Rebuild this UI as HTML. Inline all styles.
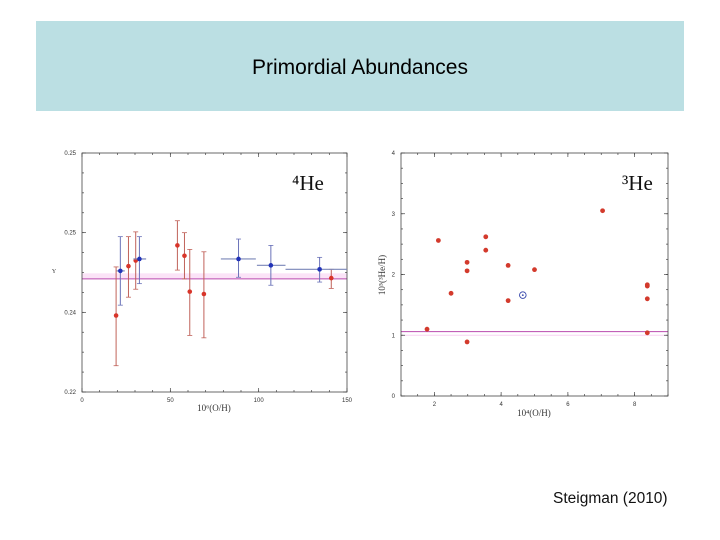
<!DOCTYPE html>
<html><head><meta charset="utf-8">
<style>
body{margin:0;width:720px;height:540px;background:#fff;overflow:hidden;position:relative;font-family:"Liberation Sans",sans-serif}
#band{position:absolute;left:36px;top:21px;width:648px;height:90px;background:#bbdfe3}
#title{position:absolute;left:0;width:720px;top:56px;text-align:center;font-size:21px;color:#000}
#cite{position:absolute;left:553px;top:490px;font-size:15.5px;color:#111}
svg{position:absolute;left:0;top:0}
</style></head><body>
<div id="band"></div>
<div id="title">Primordial Abundances</div>
<div id="cite">Steigman (2010)</div>
<svg id="svg" width="720" height="540"></svg>
<script>
// Left chart (4He) data
const heX = [19.3, 26.3, 30.4, 54.0, 58.0, 61.0, 69.0, 141.1];
const heY = [0.2296, 0.2358, 0.2365, 0.2384, 0.2371, 0.2326, 0.2323, 0.2343];
const heLo = [0.2233, 0.2319, 0.2329, 0.2353, 0.2342, 0.2271, 0.2268, 0.2330];
const heHi = [0.2357, 0.2395, 0.2401, 0.2415, 0.2400, 0.2379, 0.2376, 0.2354];
const hbX = [21.7, 32.5, 88.6, 106.9, 134.5];
const hbXlo = [19.6, 29.1, 78.6, 99.0, 115.2];
const hbXhi = [24.2, 36.3, 98.4, 115.2, 150];
const hbY = [0.2352, 0.2367, 0.2367, 0.2359, 0.2354];
const hbLo = [0.2309, 0.2336, 0.2344, 0.2334, 0.2338];
const hbHi = [0.2395, 0.2395, 0.2392, 0.2384, 0.2369];
const heLine = 0.2342, heBand = 0.2349;
const lxTicks = [0, 50, 100, 150];
const lyTicks = [0.22, 0.23, 0.24, 0.25];
const lyLabels = ["0.22", "0.24", "0.25", "0.25"];
// Right chart (3He) data
const h3X = [1.78, 2.12, 2.50, 2.98, 2.98, 2.98, 3.54, 3.54, 4.21, 4.21, 5.00, 7.04, 8.38, 8.38, 8.38, 8.38];
const h3Y = [1.10, 2.56, 1.69, 2.20, 2.06, 0.89, 2.62, 2.40, 2.15, 1.57, 2.08, 3.05, 1.83, 1.81, 1.60, 1.04];
const sunX = 4.65, sunY = 1.66;
const h3Line = 1.06, h3Band = 1.00;
const rxTicks = [2, 4, 6, 8];
const ryTicks = [0, 1, 2, 3, 4];

const NS = "http://www.w3.org/2000/svg";
const svg = document.getElementById('svg');
function mk(tag, at, parent){const e=document.createElementNS(NS,tag);for(const k in at)e.setAttribute(k,at[k]);(parent||svg).appendChild(e);return e;}

const L = {x0:82,x1:347,y0:392,y1:153,xmin:0,xmax:150,ymin:0.22,ymax:0.25};
const lx = v => L.x0 + (v-L.xmin)/(L.xmax-L.xmin)*(L.x1-L.x0);
const ly = v => L.y0 - (v-L.ymin)/(L.ymax-L.ymin)*(L.y0-L.y1);
const R = {x0:401,x1:668,y0:396,y1:153,xmin:1,xmax:9,ymin:0,ymax:4};
const rx = v => R.x0 + (v-R.xmin)/(R.xmax-R.xmin)*(R.x1-R.x0);
const ry = v => R.y0 - (v-R.ymin)/(R.ymax-R.ymin)*(R.y0-R.y1);

function frame(A, name){
  const r = mk('rect',{x:A.x0,y:A.y1,width:A.x1-A.x0,height:A.y0-A.y1,fill:'none',stroke:'#444','stroke-width':0.8});
  
  
}

let e = mk('rect',{x:L.x0,y:ly(heBand),width:L.x1-L.x0,height:ly(heLine)-ly(heBand),fill:'#fbe3f7'});
 
e = mk('line',{x1:L.x0,x2:L.x1,y1:ly(heLine),y2:ly(heLine),stroke:'#b94aae','stroke-width':1});
 
e = mk('line',{x1:R.x0,x2:R.x1,y1:ry(h3Band),y2:ry(h3Band),stroke:'#f8d4f2','stroke-width':1});
 
e = mk('line',{x1:R.x0,x2:R.x1,y1:ry(h3Line),y2:ry(h3Line),stroke:'#b94aae','stroke-width':1});
 
frame(L,'left-plot-frame'); frame(R,'right-plot-frame');

const tk = (x1,y1,x2,y2)=>mk('line',{x1,y1,x2,y2,stroke:'#444','stroke-width':0.7});
function ticksX(A, f, ticks, minorStep, lab){
  for(let v=A.xmin; v<=A.xmax+1e-9; v+=minorStep){const x=f(v);tk(x,A.y0,x,A.y0-2);tk(x,A.y1,x,A.y1+2);}
  ticks.forEach(v=>{const x=f(v);tk(x,A.y0,x,A.y0-4);tk(x,A.y1,x,A.y1+4);
    const t=mk('text',{x:x,y:A.y0+10,'font-size':6,'text-anchor':'middle',fill:'#333','font-family':'Liberation Sans, sans-serif'});t.textContent=v;
    });
}
function ticksY(A, f, ticks, labels, minorStep, lab){
  for(let v=A.ymin; v<=A.ymax+1e-9; v+=minorStep){const y=f(v);tk(A.x0,y,A.x0+2,y);tk(A.x1,y,A.x1-2,y);}
  ticks.forEach((v,i)=>{const y=f(v);tk(A.x0,y,A.x0+4,y);tk(A.x1,y,A.x1-4,y);
    const t=mk('text',{x:A.x0-6,y:y+2,'font-size':6,'text-anchor':'end',fill:'#333','font-family':'Liberation Sans, sans-serif'});t.textContent=labels[i];
    });
}
ticksX(L,lx,lxTicks,10,'left-x'); ticksY(L,ly,lyTicks,lyLabels,0.0025,'left-y');
ticksX(R,rx,rxTicks,0.5,'right-x'); ticksY(R,ry,ryTicks,ryTicks.map(String),0.25,'right-y');

function txt(x,y,s,size,name,extra){const t=mk('text',Object.assign({x,y,'font-size':size,fill:'#333','font-family':'Liberation Serif, serif'},extra||{}));t.textContent=s;return t;}
txt(214,411,'10⁶(O/H)',9,'left-x-axis-title',{'text-anchor':'middle'});
txt(54,273,'Y',6,'left-y-axis-title',{'text-anchor':'middle'});
txt(534,416,'10⁴(O/H)',9,'right-x-axis-title',{'text-anchor':'middle'});
txt(385,275,'10⁵(³He/H)',9,'right-y-axis-title',{'text-anchor':'middle',transform:'rotate(-90 385 275)'});
txt(292,190,'⁴He',21,'he4-label',{fill:'#111'});
txt(622,190,'³He',21,'he3-label',{fill:'#111'});

function errbar(x,y1,y2,col,cap){mk('line',{x1:x,x2:x,y1:y1,y2:y2,stroke:col,'stroke-width':1});
  mk('line',{x1:x-cap,x2:x+cap,y1:y1,y2:y1,stroke:col,'stroke-width':0.8});mk('line',{x1:x-cap,x2:x+cap,y1:y2,y2:y2,stroke:col,'stroke-width':0.8});}
heX.forEach((v,i)=>{errbar(lx(v),ly(heLo[i]),ly(heHi[i]),'#c0625a',2.5);
  const c=mk('circle',{cx:lx(v),cy:ly(heY[i]),r:2.3,fill:'#d8352a'});
  });
hbX.forEach((v,i)=>{errbar(lx(v),ly(hbLo[i]),ly(hbHi[i]),'#6a72b8',2.5);
  mk('line',{x1:lx(hbXlo[i]),x2:lx(hbXhi[i]),y1:ly(hbY[i]),y2:ly(hbY[i]),stroke:'#7a86b8','stroke-width':1.2});
  const c=mk('circle',{cx:lx(v),cy:ly(hbY[i]),r:2.3,fill:'#2233b8'});
  });
h3X.forEach((v,i)=>{const c=mk('circle',{cx:rx(v),cy:ry(h3Y[i]),r:2.4,fill:'#d33a2c'});
  });
e=mk('circle',{cx:rx(sunX),cy:ry(sunY),r:3.3,fill:'none',stroke:'#3344aa','stroke-width':0.9});

mk('circle',{cx:rx(sunX),cy:ry(sunY),r:0.9,fill:'#3344aa'});
</script>
</body></html>
